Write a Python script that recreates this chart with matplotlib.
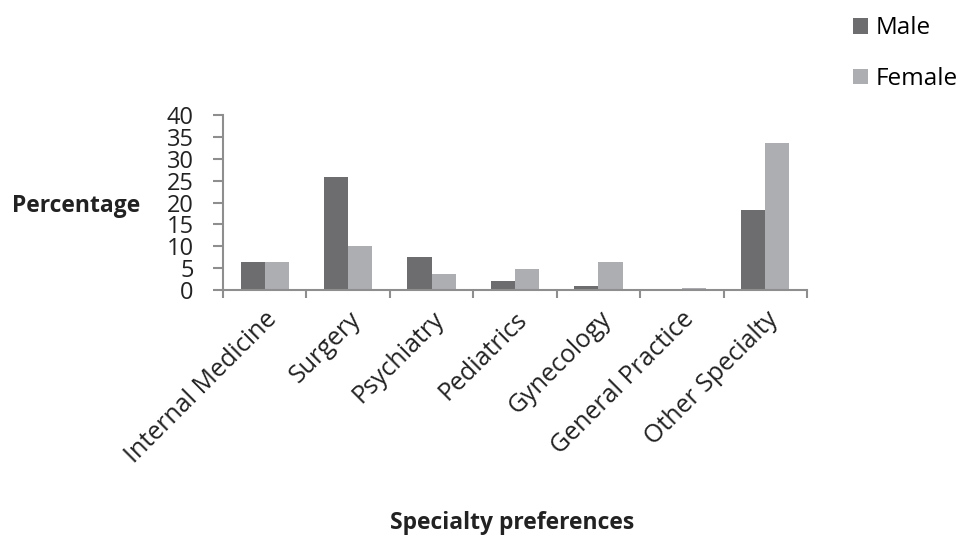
import matplotlib
matplotlib.use("Agg")
import matplotlib.pyplot as plt
import numpy as np

# data
specialties = ["Internal Medicine", "Surgery", "Psychiatry", "Pediatrics",
               "Gynecology", "General Practice", "Other Specialty"]
male = [6.3, 25.9, 7.5, 2.0, 0.8, 0.0, 18.4]
female = [6.4, 10.1, 3.6, 4.9, 6.4, 0.5, 33.7]
yticks = [0, 5, 10, 15, 20, 25, 30, 35, 40]

plt.rcParams['font.family'] = ['Open Sans', 'DejaVu Sans']

fig = plt.figure(figsize=(9.62, 5.38), dpi=100)
ax = fig.add_axes([0.2318, 0.461, 0.607, 0.325])

x = np.arange(len(specialties))
w = 0.29
axis_col = "#8e8e8e"
ax.bar(x - w / 2, male, w, color="#6d6d6f", label="Male")
ax.bar(x + w / 2, female, w, color="#adaeb1", label="Female")

ax.set_xlim(-0.5, len(specialties) - 0.5)
ax.set_ylim(0, 40)
ax.set_yticks(yticks)
ax.set_yticklabels([str(v) for v in yticks], fontsize=17, color="#222222")

# category boundary ticks on x axis
ax.set_xticks(np.arange(-0.5, len(specialties), 1.0))
ax.set_xticklabels([])
ax.set_xticks(x, minor=True)
ax.set_xticklabels(specialties, minor=True, rotation=45, ha="right",
                   rotation_mode="anchor", fontsize=18, color="#222222")
ax.tick_params(axis="x", which="minor", length=0, pad=12)
ax.tick_params(axis="x", which="major", length=6, color=axis_col, width=1.5)
ax.tick_params(axis="y", length=7, color=axis_col, width=1.5, pad=14)

for s in ["top", "right"]:
    ax.spines[s].set_visible(False)
for s in ["left", "bottom"]:
    ax.spines[s].set_color(axis_col)
    ax.spines[s].set_linewidth(1.5)

fig.text(0.012, 0.618, "Percentage", fontsize=16.5, fontweight="bold",
         va="center", ha="left", color="#222222")
fig.text(0.532, 0.028, "Specialty preferences", fontsize=16.5, fontweight="bold",
         va="center", ha="center", color="#222222")

fig.legend(loc="upper right", bbox_to_anchor=(1.018, 1.01), frameon=False,
           fontsize=17.5, handlelength=0.6, handleheight=0.6, handletextpad=0.3,
           labelspacing=1.1)

fig.savefig("out.png", dpi=100)
